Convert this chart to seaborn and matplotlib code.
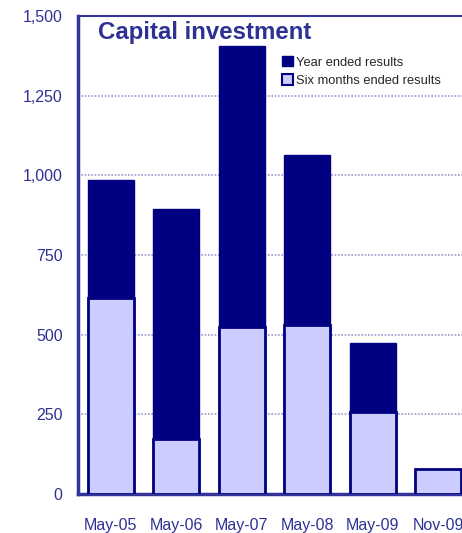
import matplotlib
matplotlib.use("Agg")
import matplotlib.pyplot as plt
from matplotlib.patches import Patch
import seaborn as sns
import pandas as pd
import numpy as np

categories = ["May-05", "May-06", "May-07", "May-08", "May-09", "Nov-09"]
year_ended = [985, 894, 1406, 1064, 474, np.nan]
six_months = [615, 172, 524, 530, 256, 78]
y_ticks = [0, 250, 500, 750, 1000, 1250, 1500]
y_tick_labels = ["0", "250", "500", "750", "1,000", "1,250", "1,500"]

NAVY = "#000080"
LIGHT = "#CCCCFF"
TEXT = "#2E3192"
SPINE = "#333399"

sns.set_style("white")
plt.rcParams["font.family"] = ["Liberation Sans", "DejaVu Sans"]

df = pd.DataFrame({"cat": categories, "year": year_ended, "six": six_months})

fig = plt.figure(figsize=(4.62, 5.33), dpi=100)
W, H = 462, 533
left, right, top, bottom = 78, 471, 16, 494
ax = fig.add_axes([left / W, 1 - bottom / H, (right - left) / W, (bottom - top) / H])

sns.barplot(data=df, x="cat", y="year", color=NAVY, saturation=1, width=0.7,
            edgecolor=NAVY, linewidth=1.0, ax=ax, zorder=3)
sns.barplot(data=df, x="cat", y="six", color=LIGHT, saturation=1, width=0.7,
            edgecolor=NAVY, linewidth=2.0, ax=ax, zorder=4)

ax.set_xlim(-0.5, 5.5)
ax.set_ylim(0, 1500)
ax.set_xlabel("")
ax.set_ylabel("")
ax.set_yticks(y_ticks)
ax.set_yticklabels(y_tick_labels)
ax.tick_params(axis="y", length=0, pad=11, labelsize=11.5, labelcolor=TEXT)
ax.tick_params(axis="x", which="major", length=0, pad=17, labelsize=11.5, labelcolor=TEXT)
ax.set_xticks(np.arange(0.5, 5.5, 1.0), minor=True)
ax.tick_params(axis="x", which="minor", direction="in", length=6, width=1.5, color=SPINE)

ax.yaxis.grid(True, linestyle=(0, (1, 1)), color="#9999CC", linewidth=1.2, zorder=0)
ax.set_axisbelow(True)
for s in ["left", "bottom", "top"]:
    ax.spines[s].set_visible(True)
    ax.spines[s].set_color(SPINE)
ax.spines["left"].set_linewidth(2.5)
ax.spines["bottom"].set_linewidth(2.5)
ax.spines["top"].set_linewidth(1.5)
ax.spines["right"].set_visible(False)

fig.text(98 / W, 1 - 32 / H, "Capital investment",
         fontsize=17.3, fontweight="bold", color=TEXT, va="center", ha="left")

handles = [Patch(facecolor=NAVY, edgecolor=NAVY, linewidth=1),
           Patch(facecolor=LIGHT, edgecolor=NAVY, linewidth=1.5)]
fig.legend(handles, ["Year ended results", "Six months ended results"],
           loc="upper left", bbox_to_anchor=(282 / W, 1 - 56 / H), frameon=False,
           fontsize=9.3, handlelength=0.85, handleheight=0.85, handletextpad=0.25,
           labelspacing=0.45, borderaxespad=0, borderpad=0)

fig.savefig("out.png", dpi=100)
